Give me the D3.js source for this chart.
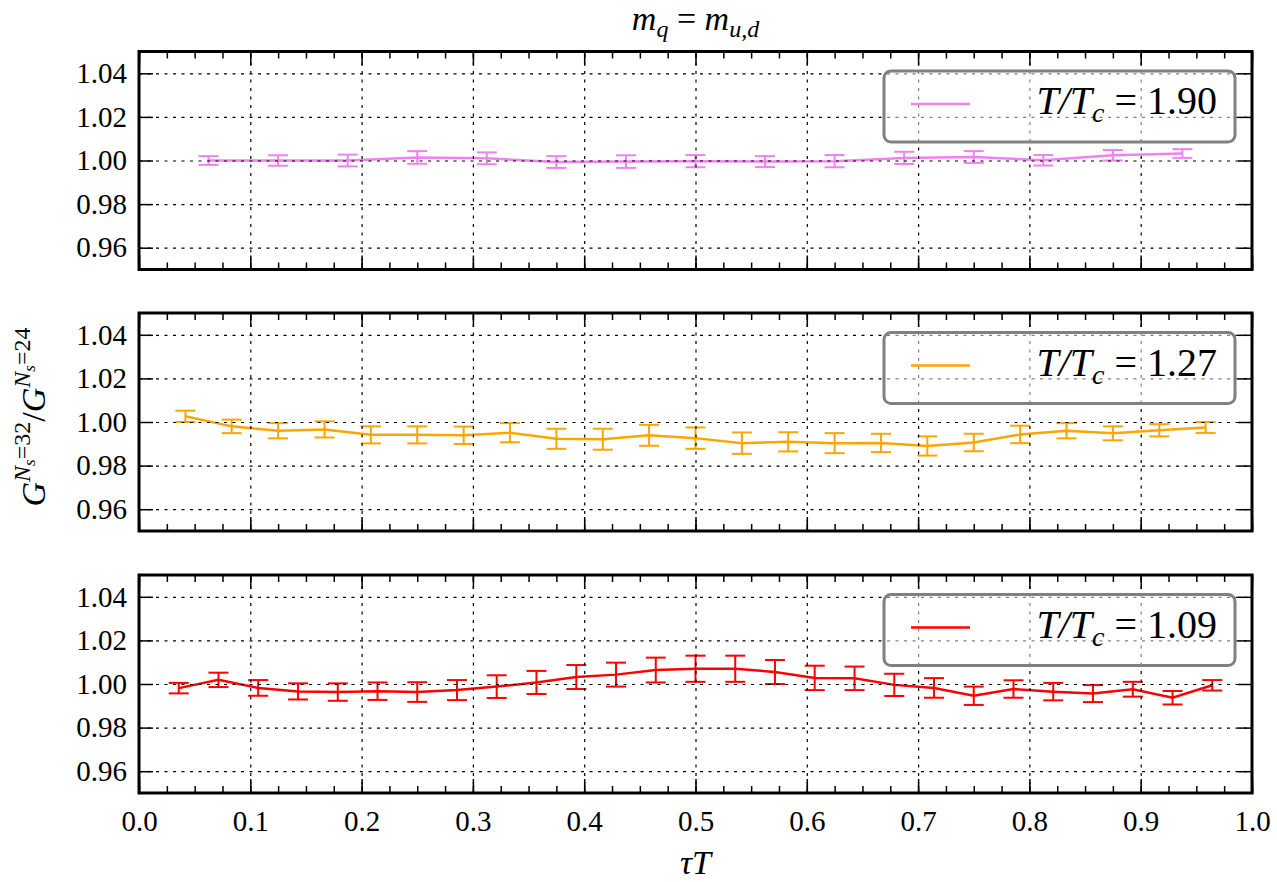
<!DOCTYPE html>
<html>
<head>
<meta charset="utf-8">
<script src="https://cdn.jsdelivr.net/npm/d3@7"></script>
</head>
<body style="margin:0">
<div id="chart"></div>
<script>
// data
var tau16 = [0.0625,0.125,0.1875,0.25,0.3125,0.375,0.4375,0.5,0.5625,0.625,0.6875,0.75,0.8125,0.875,0.9375];
var ratio190 = [1.0000,1.0000,1.0000,1.0014,1.0010,0.9993,0.9995,0.9997,0.9995,0.9997,1.0012,1.0016,1.0001,1.0024,1.0032];
var err190 = [0.0020,0.0024,0.0027,0.0029,0.0027,0.0027,0.0029,0.0028,0.0025,0.0028,0.0028,0.0027,0.0024,0.0024,0.0020];

var tau24 = [0.0417,0.0833,0.125,0.1667,0.2083,0.25,0.2917,0.3333,0.375,0.4167,0.4583,0.5,0.5417,0.5833,0.625,0.6667,0.7083,0.75,0.7917,0.8333,0.875,0.9167,0.9583];
var ratio127 = [1.0026,0.9980,0.9960,0.9966,0.9941,0.9941,0.9939,0.9951,0.9923,0.9921,0.9939,0.9926,0.9903,0.9909,0.9903,0.9904,0.9890,0.9906,0.9943,0.9960,0.9948,0.9962,0.9975];
var err127 = [0.0026,0.0031,0.0035,0.0037,0.0039,0.0039,0.0040,0.0044,0.0046,0.0048,0.0048,0.0049,0.0049,0.0044,0.0046,0.0042,0.0044,0.0040,0.0040,0.0035,0.0032,0.0028,0.0025];

var tau28 = [0.0357,0.0714,0.1071,0.1429,0.1786,0.2143,0.25,0.2857,0.3214,0.3571,0.3929,0.4286,0.4643,0.5,0.5357,0.5714,0.6071,0.6429,0.6786,0.7143,0.75,0.7857,0.8214,0.8571,0.8929,0.9286,0.9643];
var ratio109 = [0.9981,1.0019,0.9982,0.9966,0.9963,0.9967,0.9963,0.9972,0.9988,1.0007,1.0032,1.0043,1.0064,1.0070,1.0070,1.0055,1.0028,1.0026,0.9996,0.9982,0.9946,0.9977,0.9965,0.9956,0.9976,0.9937,0.9994];
var err109 = [0.0024,0.0033,0.0036,0.0037,0.0040,0.0040,0.0045,0.0046,0.0052,0.0053,0.0055,0.0055,0.0057,0.0060,0.0060,0.0055,0.0056,0.0054,0.0051,0.0045,0.0042,0.0040,0.0040,0.0039,0.0034,0.0031,0.0024];

var xTicks = [0.0,0.1,0.2,0.3,0.4,0.5,0.6,0.7,0.8,0.9,1.0];
var yTicks = [0.96,0.98,1.00,1.02,1.04];
var labels = ["1.90","1.27","1.09"];
var colors = ["#ee82ee","#ffa500","#ff0000"];

var FONT = '"Liberation Serif"';
var W = 1277, H = 882;
var left = 139, right = 1252, ph = 218;
var tops = [51.5, 313, 575];

var svg = d3.select("#chart").append("svg")
    .attr("width", W).attr("height", H);

var x = d3.scaleLinear().domain([0, 1]).range([left, right]);
var minor = d3.range(0, 1.0001, 0.025);

var panels = [
  {tau: tau16, val: ratio190, err: err190},
  {tau: tau24, val: ratio127, err: err127},
  {tau: tau28, val: ratio109, err: err109}
];

// d3 axes put a sans font on their group: swap it for the serif one
function styleAxis(a) {
  a.attr("font-family", FONT).attr("font-size", 29);
  a.select(".domain").remove();
  a.selectAll("line").attr("stroke", "#000").attr("stroke-width", 1.5);
  a.selectAll("text").attr("fill", "#000").attr("font-family", FONT).attr("font-size", 29);
}
function gridAxis(a) {
  a.select(".domain").remove();
  a.selectAll("text").remove();
  a.selectAll("line").attr("stroke", "#000").attr("stroke-width", 1.2).attr("stroke-dasharray", "3,5.5");
}

panels.forEach(function(p, i) {
  var top = tops[i], bot = top + ph;
  var y = d3.scaleLinear().domain([0.95, 1.05]).range([bot, top]);
  var g = svg.append("g");
  var col = colors[i];
  var pts = p.tau.map(function(t, j){ return {t: t, v: p.val[j], e: p.err[j]}; });

  // data line
  g.append("path").datum(pts)
    .attr("fill", "none").attr("stroke", col).attr("stroke-width", 2.5)
    .attr("d", d3.line().x(function(d){return x(d.t)}).y(function(d){return y(d.v)}));

  // error bars
  var eb = g.append("g").selectAll("g").data(pts).enter().append("g")
    .attr("stroke", col).attr("stroke-width", 2);
  eb.append("line")
    .attr("x1", function(d){return x(d.t)}).attr("x2", function(d){return x(d.t)})
    .attr("y1", function(d){return y(d.v - d.e)}).attr("y2", function(d){return y(d.v + d.e)});
  eb.append("line")
    .attr("x1", function(d){return x(d.t) - 10}).attr("x2", function(d){return x(d.t) + 10})
    .attr("y1", function(d){return y(d.v + d.e)}).attr("y2", function(d){return y(d.v + d.e)});
  eb.append("line")
    .attr("x1", function(d){return x(d.t) - 10}).attr("x2", function(d){return x(d.t) + 10})
    .attr("y1", function(d){return y(d.v - d.e)}).attr("y2", function(d){return y(d.v - d.e)});

  // dotted grid
  g.append("g").attr("transform", "translate(0," + bot + ")")
    .call(d3.axisBottom(x).tickValues(xTicks.slice(1, -1)).tickSize(-ph).tickFormat(""))
    .call(gridAxis);
  g.append("g").attr("transform", "translate(" + left + ",0)")
    .call(d3.axisLeft(y).tickValues(yTicks).tickSize(-(right - left)).tickFormat(""))
    .call(gridAxis);

  // inward ticks on all four sides
  g.append("g").attr("transform", "translate(0," + bot + ")")
    .call(d3.axisBottom(x).tickValues(minor).tickSize(-7).tickFormat("")).call(styleAxis);
  g.append("g").attr("transform", "translate(0," + top + ")")
    .call(d3.axisTop(x).tickValues(minor).tickSize(-7).tickFormat("")).call(styleAxis);
  g.append("g").attr("transform", "translate(0," + top + ")")
    .call(d3.axisTop(x).tickValues(xTicks).tickSize(-14).tickFormat("")).call(styleAxis);
  g.append("g").attr("transform", "translate(" + right + ",0)")
    .call(d3.axisRight(y).tickValues(yTicks).tickSize(-14).tickFormat("")).call(styleAxis);

  g.append("g").attr("transform", "translate(0," + bot + ")")
    .call(d3.axisBottom(x).tickValues(xTicks).tickSize(-14).tickPadding(17)
      .tickFormat(i == 2 ? d3.format(".1f") : ""))
    .call(styleAxis);

  g.append("g").attr("transform", "translate(" + left + ",0)")
    .call(d3.axisLeft(y).tickValues(yTicks).tickSize(-14).tickPadding(12).tickFormat(d3.format(".2f")))
    .call(styleAxis);

  // frame
  g.append("rect").attr("x", left).attr("y", top)
    .attr("width", right - left).attr("height", ph)
    .attr("fill", "none").attr("stroke", "#000").attr("stroke-width", 3);

  // legend
  var lg = g.append("g").attr("transform", "translate(884," + (top + 19.5) + ")");
  lg.append("rect").attr("width", 351).attr("height", 71).attr("rx", 7)
    .attr("fill", "#fff").attr("fill-opacity", 0.5)
    .attr("stroke", "#808080").attr("stroke-width", 3);
  lg.append("line").attr("x1", 27).attr("x2", 86).attr("y1", 33).attr("y2", 33)
    .attr("stroke", col).attr("stroke-width", 2.5);
  var lt = lg.append("text").attr("x", 333).attr("y", 43).attr("text-anchor", "end")
    .attr("font-family", FONT).attr("font-size", 40);
  lt.append("tspan").attr("font-style", "italic").text("T/T");
  lt.append("tspan").attr("font-style", "italic").attr("font-size", 28).attr("dy", 8).text("c");
  lt.append("tspan").attr("dy", -8).text(" = " + labels[i]);
});

// title
var tt = svg.append("text").attr("x", (left + right) / 2).attr("y", 30)
  .attr("text-anchor", "middle").attr("font-family", FONT).attr("font-size", 34);
tt.append("tspan").attr("font-style", "italic").text("m");
tt.append("tspan").attr("font-style", "italic").attr("font-size", 24).attr("dy", 7).text("q");
tt.append("tspan").attr("dy", -7).text(" = ");
tt.append("tspan").attr("font-style", "italic").text("m");
tt.append("tspan").attr("font-style", "italic").attr("font-size", 24).attr("dy", 7).text("u,d");

// x label
svg.append("text").attr("x", (left + right) / 2).attr("y", 874)
  .attr("text-anchor", "middle").attr("font-style", "italic")
  .attr("font-family", FONT).attr("font-size", 34)
  .text("τT");

// y label
var yl = svg.append("text").attr("transform", "translate(45,417) rotate(-90)")
  .attr("text-anchor", "middle").attr("font-family", FONT).attr("font-size", 34);
yl.append("tspan").attr("font-style", "italic").text("G");
yl.append("tspan").attr("font-style", "italic").attr("font-size", 24).attr("dy", -15).text("N");
yl.append("tspan").attr("font-style", "italic").attr("font-size", 17).attr("dy", 5).text("s");
yl.append("tspan").attr("font-size", 24).attr("dy", -5).text("=32");
yl.append("tspan").attr("dy", 15).text("/");
yl.append("tspan").attr("font-style", "italic").text("G");
yl.append("tspan").attr("font-style", "italic").attr("font-size", 24).attr("dy", -15).text("N");
yl.append("tspan").attr("font-style", "italic").attr("font-size", 17).attr("dy", 5).text("s");
yl.append("tspan").attr("font-size", 24).attr("dy", -5).text("=24");
</script>
</body>
</html>
